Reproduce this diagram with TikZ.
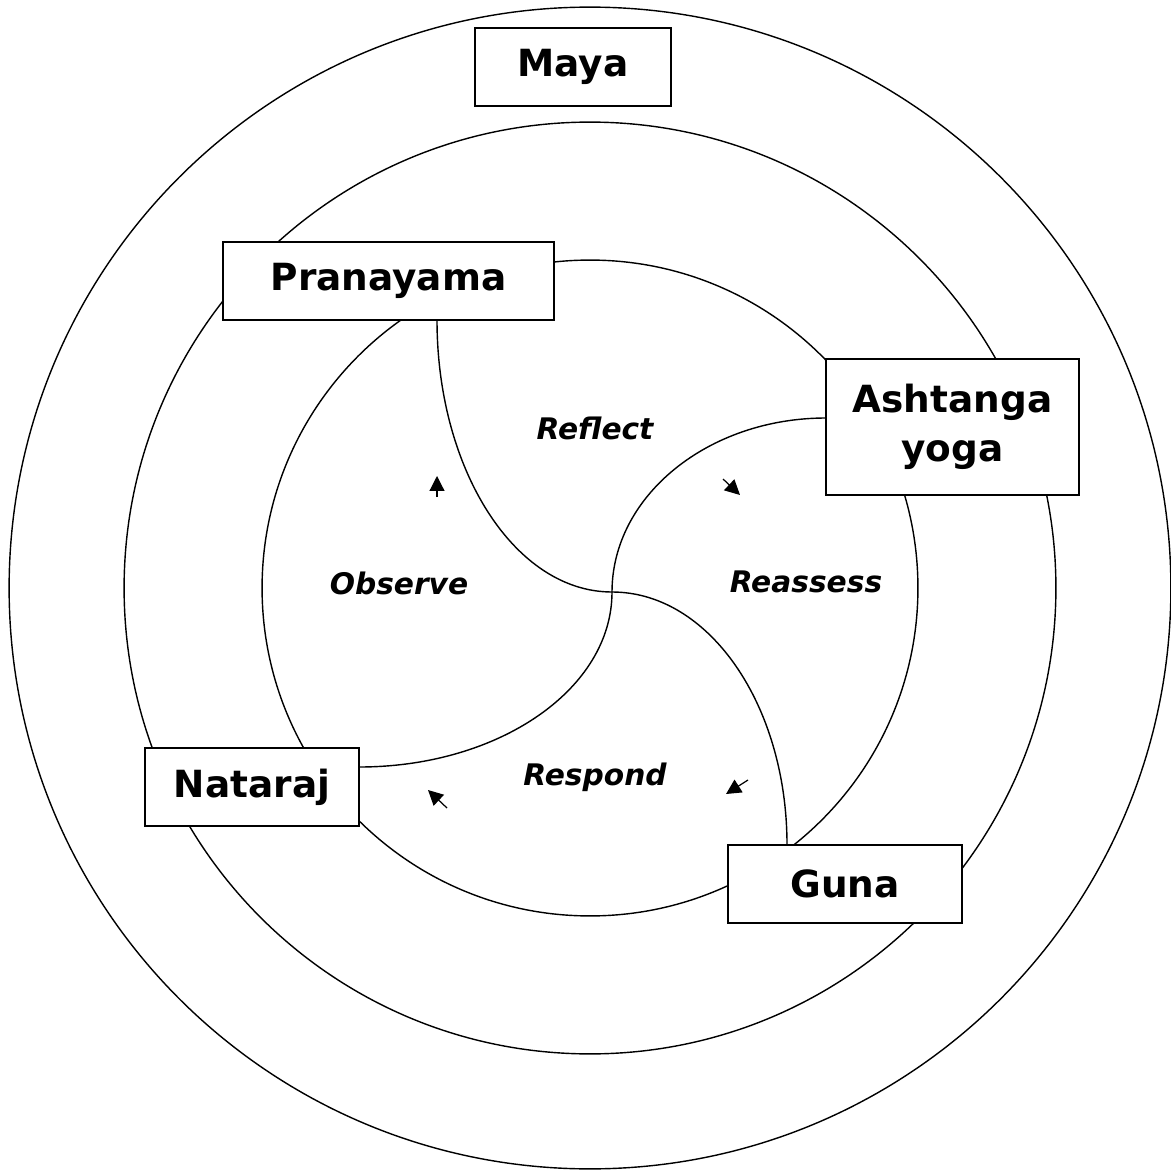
\documentclass[tikz,border=0pt]{standalone}
\usepackage{fontspec}
\setmainfont{DejaVu Sans}
\usepackage{tikz}
\usetikzlibrary{arrows.meta,positioning,calc}

\begin{document}
\begin{tikzpicture}[
  x=0.02cm, y=-0.02cm,
  ring/.style={line width=0.8pt},
  spiral/.style={line width=0.8pt},
  box/.style={draw, line width=1pt, fill=white, align=center, inner sep=0pt,
    minimum height=1.56cm, font=\fontsize{21.3}{28}\selectfont\bfseries},
  lbl/.style={font=\fontsize{16.9}{20}\selectfont\bfseries\itshape},
  arr/.style={-{Triangle[length=8.5pt, width=8.5pt]}, line width=0.7pt},
]
\useasboundingbox (0,0) rectangle (1170,1175);
% ---------------- rings ----------------
\coordinate (mid) at (590,588);
\draw[ring] (mid) circle[radius=11.62cm];
\draw[ring] (mid) circle[radius=9.32cm];
\draw[ring] (mid) circle[radius=6.56cm];
% ---------------- spiral ----------------
\coordinate (hub) at (612,592);
\coordinate (pranfoot) at (437,320);
\coordinate (gunahead) at (787,845);
\coordinate (ashtfoot) at (826,418);
\coordinate (natafoot) at (359,767);
\draw[spiral] (pranfoot) .. controls (437,470) and (515,592) .. (hub)
  .. controls (709,592) and (787,705) .. (gunahead);
\draw[spiral] (ashtfoot) .. controls (708,418) and (612,496) .. (hub)
  .. controls (612,689) and (499,767) .. (natafoot);
% ---------------- boxes ----------------
\node[box, minimum width=3.92cm] (maya) at (573,67) {Maya};
\node[box, minimum width=6.62cm] (pran) at (388.5,281) {Pranayama};
\node[box, minimum width=5.06cm, minimum height=2.72cm] (asht) at (952.5,427) {Ashtanga\\yoga};
\node[box, minimum width=4.28cm] (nata) at (252,787) {Nataraj};
\node[box, minimum width=4.68cm] (guna) at (845,884) {Guna};
% ---------------- phases ----------------
\node[lbl] (reflect) at (595,428) {Reflect};
\node[lbl] (reassess) at (806,582) {Reassess};
\node[lbl] (observe) at (399,583) {Observe};
\node[lbl] (respond) at (595,777) {Respond};
% ---------------- small arrows ----------------
\coordinate (a1s) at (437,497); \coordinate (a1e) at (437,476);
\coordinate (a2s) at (723,479); \coordinate (a2e) at (740,495);
\coordinate (a3s) at (748,780); \coordinate (a3e) at (726,794);
\coordinate (a4s) at (447,808); \coordinate (a4e) at (428,790);
\draw[arr] (a1s) -- (a1e);
\draw[arr] (a2s) -- (a2e);
\draw[arr] (a3s) -- (a3e);
\draw[arr] (a4s) -- (a4e);
\end{tikzpicture}
\end{document}
